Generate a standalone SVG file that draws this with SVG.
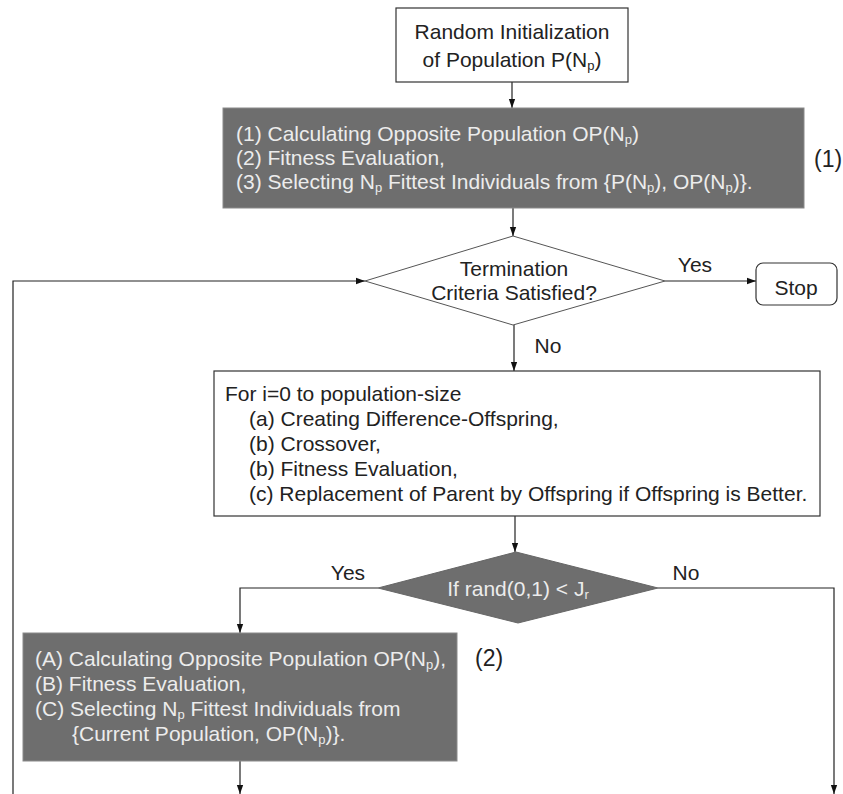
<svg xmlns="http://www.w3.org/2000/svg" width="843" height="794" viewBox="0 0 843 794">
<defs>
<style>
text{font-family:"Liberation Sans",Arial,sans-serif;font-size:21px;fill:#222}
.lt{fill:#ececec}
.c{text-anchor:middle}
.box{fill:#fff;stroke:#333;stroke-width:1.2}
.gbox{fill:#6e6e6e;stroke:#8a8a8a;stroke-width:1}
.dia{fill:#fff;stroke:#555;stroke-width:1}
.gdia{fill:#6e6e6e;stroke:#666;stroke-width:1}
.ln{fill:none;stroke:#222;stroke-width:1.2}
.sub{font-size:13px}
</style>
<marker id="ah" viewBox="0 0 10 10" refX="10" refY="5" markerWidth="9" markerHeight="9" markerUnits="userSpaceOnUse" orient="auto">
<path d="M0,1.5 L10,5 L0,8.5 z" fill="#111"/>
</marker>
</defs>
<rect width="843" height="794" fill="#fff"/>

<g id="connectors">
<line class="ln" x1="512" y1="82" x2="512" y2="108" marker-end="url(#ah)"/>
<line class="ln" x1="513" y1="208" x2="513" y2="236" marker-end="url(#ah)"/>
<line class="ln" x1="665" y1="281" x2="756" y2="281" marker-end="url(#ah)"/>
<line class="ln" x1="514" y1="325" x2="514" y2="371" marker-end="url(#ah)"/>
<polyline class="ln" points="13,794 13,281 365,281" marker-end="url(#ah)"/>
<line class="ln" x1="515" y1="516" x2="515" y2="552" marker-end="url(#ah)"/>
<polyline class="ln" points="378,588 240,588 240,633" marker-end="url(#ah)"/>
<polyline class="ln" points="658,588 834,588 834,794" marker-end="url(#ah)"/>
<line class="ln" x1="240" y1="761" x2="240" y2="794" marker-end="url(#ah)"/>
<text x="695" y="272" class="c">Yes</text>
<text x="548" y="353" class="c">No</text>
<text x="348" y="580" class="c">Yes</text>
<text x="686" y="580" class="c">No</text>
</g>

<g id="init">
<rect class="box" x="396" y="8" width="232" height="74"/>
<text x="512" y="39" class="c">Random Initialization</text>
<text x="512" y="67" class="c">of Population P(N<tspan class="sub" dy="3">p</tspan><tspan dy="-3">)</tspan></text>
</g>

<g id="opposition1">
<rect class="gbox" x="223" y="108" width="581" height="100"/>
<text x="236" y="141" class="lt">(1) Calculating Opposite Population OP(N<tspan class="sub" dy="3">p</tspan><tspan dy="-3">)</tspan></text>
<text x="236" y="165" class="lt">(2) Fitness Evaluation,</text>
<text x="236" y="189" class="lt">(3) Selecting N<tspan class="sub" dy="3">p</tspan><tspan dy="-3"> Fittest Individuals from {P(N</tspan><tspan class="sub" dy="3">p</tspan><tspan dy="-3">), OP(N</tspan><tspan class="sub" dy="3">p</tspan><tspan dy="-3">)}.</tspan></text>
</g>

<g id="label1">
<text x="814" y="167" style="font-size:23px">(1)</text>
</g>

<g id="termination">
<polygon class="dia" points="513,236 665,281 513,325 365,281"/>
<text x="514" y="276" class="c">Termination</text>
<text x="514" y="300" class="c">Criteria Satisfied?</text>
</g>

<g id="stop">
<rect class="box" x="756" y="263" width="81" height="42" rx="7"/>
<text x="796" y="295" class="c">Stop</text>
</g>

<g id="de-loop">
<rect class="box" x="214" y="371" width="606" height="145"/>
<text x="225" y="401">For i=0 to population-size</text>
<text x="249" y="426">(a) Creating Difference-Offspring,</text>
<text x="249" y="451">(b) Crossover,</text>
<text x="249" y="476">(b) Fitness Evaluation,</text>
<text x="249" y="501">(c) Replacement of Parent by Offspring if Offspring is Better.</text>
</g>

<g id="jump-check">
<polygon class="gdia" points="516,552 658,588 518,623 378,588"/>
<text x="518" y="596" class="c lt">If rand(0,1) &lt; J<tspan class="sub" dy="3">r</tspan></text>
</g>

<g id="opposition2">
<rect class="gbox" x="23" y="633" width="434" height="128"/>
<text x="35" y="666" class="lt">(A) Calculating Opposite Population OP(N<tspan class="sub" dy="3">p</tspan><tspan dy="-3">),</tspan></text>
<text x="35" y="691" class="lt">(B) Fitness Evaluation,</text>
<text x="35" y="716" class="lt">(C) Selecting N<tspan class="sub" dy="3">p</tspan><tspan dy="-3"> Fittest Individuals from</tspan></text>
<text x="72" y="741" class="lt">{Current Population, OP(N<tspan class="sub" dy="3">p</tspan><tspan dy="-3">)}.</tspan></text>
</g>

<g id="label2">
<text x="475" y="666" style="font-size:23px">(2)</text>
</g>
</svg>
